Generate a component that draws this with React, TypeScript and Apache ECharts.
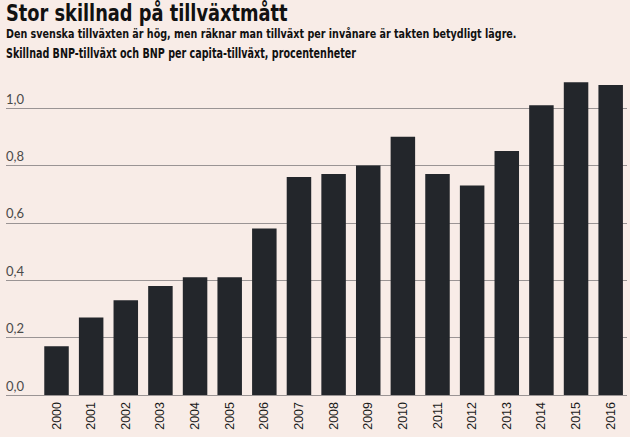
import React, { useEffect, useRef } from "react";
import * as echarts from "echarts";

const years = ["2000","2001","2002","2003","2004","2005","2006","2007","2008","2009","2010","2011","2012","2013","2014","2015","2016"];
const values = [0.17,0.27,0.33,0.38,0.41,0.41,0.58,0.76,0.77,0.80,0.90,0.77,0.73,0.85,1.01,1.09,1.08];
const title = "Stor skillnad på tillväxtmått";
const subtitle1 = "Den svenska tillväxten är hög, men räknar man tillväxt per invånare är takten betydligt lägre.";
const subtitle2 = "Skillnad BNP-tillväxt och BNP per capita-tillväxt, procentenheter";

const condensed = '"DejaVu Sans Condensed", "DejaVu Sans", sans-serif';

export default function App() {
  const ref = useRef<HTMLDivElement>(null);
  useEffect(() => {
    document.body.style.margin = "0";
    const chart = echarts.init(ref.current!, null, { renderer: "svg" });
    chart.setOption({
      animation: false,
      backgroundColor: "#f8ece7",
      graphic: [
        { type: "text", x: 6, y: 13, scaleX: 0.86, style: { text: title, font: `bold 23px ${condensed}`, fill: "#111", textVerticalAlign: "middle" } },
        { type: "text", x: 6, y: 27, scaleX: 0.82, style: { text: subtitle1, font: `bold 13px ${condensed}`, fill: "#111", textVerticalAlign: "top" } },
        { type: "text", x: 6, y: 47, scaleX: 0.79, style: { text: subtitle2, font: `bold 13.5px ${condensed}`, fill: "#111", textVerticalAlign: "top" } },
      ],
      grid: [
        { left: 6, right: 3, top: 108, height: 287 },
        { left: 39.2, right: 2, top: 108, height: 287 },
      ],
      xAxis: [
        { type: "category", gridIndex: 0, data: years, show: false },
        {
          type: "category", gridIndex: 1, data: years,
          axisLine: { show: false }, axisTick: { show: false },
          axisLabel: { rotate: 90, interval: 0, margin: 7, fontSize: 12.5, color: "#1a1a1a", fontFamily: "Liberation Sans, Arial, sans-serif" },
        },
      ],
      yAxis: [
        {
          type: "value", gridIndex: 0, min: 0, max: 1, interval: 0.2,
          axisLine: { show: false }, axisTick: { show: false },
          splitLine: { lineStyle: { color: "#9a9494", width: 1 } },
          axisLabel: {
            inside: true, verticalAlign: "bottom", margin: 0, padding: [0, 0, 3, 0],
            fontSize: 13, color: "#4a4a4a", fontFamily: "Lato, sans-serif",
            formatter: (v: number) => v.toFixed(1).replace(".", ","),
          },
        },
        { type: "value", gridIndex: 1, min: 0, max: 1, interval: 0.2, show: false, splitLine: { show: false } },
      ],
      series: [
        {
          type: "bar", xAxisIndex: 1, yAxisIndex: 1, data: values, clip: false,
          barWidth: 24.5, itemStyle: { color: "#23262b" },
        },
      ],
    });
    return () => chart.dispose();
  }, []);
  return <div ref={ref} style={{ width: 630, height: 437 }} />;
}
